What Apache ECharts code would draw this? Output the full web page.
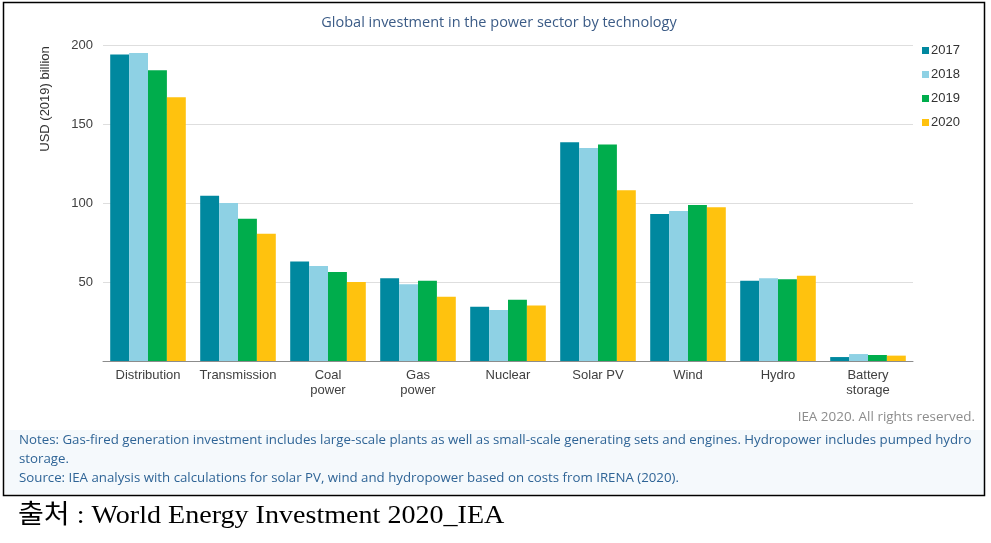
<!DOCTYPE html>
<html>
<head>
<meta charset="utf-8">
<script src="https://cdn.jsdelivr.net/npm/echarts@6/dist/echarts.min.js"></script>
<style>
html,body{margin:0;padding:0;background:#fff;}
#c{width:991px;height:543px;}
</style>
</head>
<body>
<div id="c"></div>
<script>
const categories = ['Distribution','Transmission','Coal\npower','Gas\npower','Nuclear','Solar PV','Wind','Hydro','Battery\nstorage'];
const years = ['2017','2018','2019','2020'];
const v2017 = [194, 104.6, 62.9, 52.3, 34.4, 138.4, 93, 50.8, 2.5];
const v2018 = [195, 100, 60.1, 48.5, 32.3, 134.8, 95, 52.3, 4.4];
const v2019 = [184, 90, 56.3, 50.8, 38.8, 137.1, 98.7, 51.7, 3.8];
const v2020 = [167, 80.6, 50, 40.7, 35.2, 108, 97.3, 54, 3.4];
const yTicks = [0, 50, 100, 150, 200];
const colors = ['#00889f', '#8ed1e4', '#00ad4c', '#ffc20e'];

const seriesData = [v2017, v2018, v2019, v2020];
const chart = echarts.init(document.getElementById('c'));
chart.setOption({
  animation: false,
  backgroundColor: '#fff',
  title: {
    text: 'Global investment in the power sector by technology',
    left: 494, top: 10, textAlign: 'center',
    textStyle: {fontSize: 14.5, fontWeight: 'normal', color: '#3b5b86', fontFamily: 'Open Sans'}
  },
  legend: {
    orient: 'vertical', left: 917, top: 39,
    itemWidth: 7, itemHeight: 7, itemGap: 11,
    icon: 'rect',
    textStyle: {fontSize: 13, color: '#333', fontFamily: 'Liberation Sans', padding: [0,0,0,-3]},
    data: years
  },
  grid: {left: 103, right: 78, top: 45, bottom: 182},
  xAxis: {
    type: 'category', data: categories,
    axisLine: {lineStyle: {color: '#8c8c8c'}},
    axisTick: {show: false},
    axisLabel: {fontSize: 13, color: '#404040', fontFamily: 'Liberation Sans', lineHeight: 15, margin: 7, interval: 0}
  },
  yAxis: {
    type: 'value', min: yTicks[0], max: yTicks[yTicks.length-1], interval: 50,
    axisLine: {show: false}, axisTick: {show: false},
    axisLabel: {fontSize: 13, color: '#404040', fontFamily: 'Liberation Sans', margin: 10,
      formatter: v => v === 0 ? '' : String(v)},
    splitLine: {lineStyle: {color: '#dedede', width: 1}}
  },
  series: years.map((y, i) => ({
    name: y, type: 'bar', data: seriesData[i],
    itemStyle: {color: colors[i]},
    barGap: '0%', barCategoryGap: '16%'
  })),
  graphic: [
    {type: 'rect', z: -10, shape: {x: 5, y: 430, width: 979, height: 64}, style: {fill: '#f5f9fc'}},
    {type: 'rect', z: 100, shape: {x: 3.5, y: 2.5, width: 981, height: 493}, style: {fill: 'none', stroke: '#000', lineWidth: 1.5}},
    {type: 'text', x: 45, y: 99, rotation: Math.PI/2,
      style: {text: 'USD (2019) billion', fontSize: 13, fill: '#333', fontFamily: 'Liberation Sans', textAlign: 'center', textVerticalAlign: 'middle'}},
    {type: 'text', x: 975, y: 418, scaleX: 1.12,
      style: {text: 'IEA 2020. All rights reserved.', fontSize: 12, fill: '#8c8c8c', fontFamily: 'Open Sans', textAlign: 'right', textVerticalAlign: 'middle'}},
    {type: 'text', x: 19, y: 441, scaleX: 1.105,
      style: {text: 'Notes: Gas-fired generation investment includes large-scale plants as well as small-scale generating sets and engines. Hydropower includes pumped hydro', fontSize: 12, fill: '#2f6496', fontFamily: 'Open Sans', textVerticalAlign: 'middle'}},
    {type: 'text', x: 19, y: 460, scaleX: 1.105,
      style: {text: 'storage.', fontSize: 12, fill: '#2f6496', fontFamily: 'Open Sans', textVerticalAlign: 'middle'}},
    {type: 'text', x: 19, y: 479, scaleX: 1.105,
      style: {text: 'Source: IEA analysis with calculations for solar PV, wind and hydropower based on costs from IRENA (2020).', fontSize: 12, fill: '#2f6496', fontFamily: 'Open Sans', textVerticalAlign: 'middle'}},
    {type: 'text', x: 18, y: 516, scaleX: 1.08,
      style: {text: '출처 : World Energy Investment 2020_IEA', fontSize: 26, fill: '#000', fontFamily: '"Liberation Serif", "Noto Sans CJK KR", serif', textVerticalAlign: 'middle'}}
  ]
});
</script>
</body>
</html>
